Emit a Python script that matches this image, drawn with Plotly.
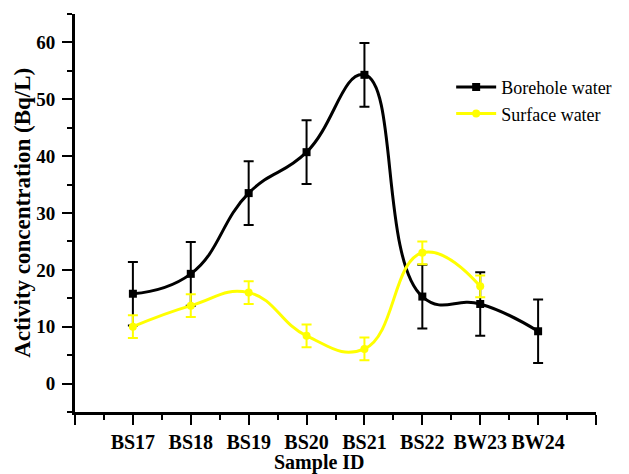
import plotly.graph_objects as go

categories = ["BS17", "BS18", "BS19", "BS20", "BS21", "BS22", "BW23", "BW24"]
borehole = [15.8, 19.3, 33.5, 40.7, 54.3, 15.3, 14.0, 9.2]
borehole_err = [5.6, 5.6, 5.6, 5.6, 5.6, 5.6, 5.6, 5.6]
surface = [10.0, 13.7, 16.0, 8.4, 6.1, 23.0, 17.1]
surface_err = [2.0, 2.0, 2.0, 2.0, 2.0, 2.0, 1.9]

xb = list(range(1, len(borehole) + 1))
xs = list(range(1, len(surface) + 1))

serif = "Liberation Serif, Times New Roman, serif"

fig = go.Figure()
fig.add_trace(go.Scatter(
    x=xb, y=borehole, name="Borehole water", mode="lines+markers",
    line=dict(color="black", width=3, shape="spline", smoothing=1.3),
    marker=dict(symbol="square", size=8, color="black"),
    error_y=dict(type="data", array=borehole_err, visible=True,
                 color="black", thickness=2, width=5),
))
fig.add_trace(go.Scatter(
    x=xs, y=surface, name="Surface water", mode="lines+markers",
    line=dict(color="#FFFF00", width=3, shape="spline", smoothing=1.3),
    marker=dict(symbol="circle", size=8, color="#FFFF00"),
    error_y=dict(type="data", array=surface_err, visible=True,
                 color="#FFFF00", thickness=2, width=5),
))

fig.update_layout(
    width=629, height=474,
    margin=dict(l=75, r=17, t=14, b=62),
    plot_bgcolor="white", paper_bgcolor="white",
    font=dict(family=serif, color="black"),
    showlegend=True,
    legend=dict(x=0.722, y=0.862, xanchor="left", yanchor="top",
                bgcolor="rgba(0,0,0,0)", font=dict(size=18, family=serif),
                itemwidth=40, tracegroupgap=0),
    xaxis=dict(
        range=[0, 9], tickmode="array",
        tickvals=list(range(0, 10)),
        ticktext=[""] + categories + [""],
        showgrid=False, zeroline=False,
        showline=True, linecolor="black", linewidth=3,
        ticks="outside", ticklen=10, tickwidth=2, tickcolor="black",
        tickfont=dict(size=20, family=serif, weight="bold"),
        minor=dict(tickmode="linear", tick0=0, dtick=0.5, ticks="outside",
                   ticklen=5, tickwidth=2, tickcolor="black"),
    ),
    yaxis=dict(
        range=[-5, 65], tickmode="array", tickvals=[0, 10, 20, 30, 40, 50, 60],
        showgrid=False, zeroline=False,
        showline=True, linecolor="black", linewidth=3,
        ticks="outside", ticklen=10, tickwidth=2, tickcolor="black",
        tickfont=dict(size=19, family=serif, weight="bold"),
        ticklabelstandoff=3,
        minor=dict(tickmode="linear", tick0=-5, dtick=5, ticks="outside",
                   ticklen=5, tickwidth=2, tickcolor="black"),
    ),
    annotations=[
        dict(text="<b>Sample ID</b>", xref="paper", yref="paper",
             x=0.469, y=-0.128, xanchor="center", yanchor="middle",
             showarrow=False, font=dict(size=20, family=serif)),
        dict(text="<b>Activity concentration (Bq/L)</b>", xref="paper", yref="paper",
             x=-0.102, y=0.5, xanchor="center", yanchor="middle", textangle=-90,
             showarrow=False, font=dict(size=23, family=serif)),
    ],
)

fig.write_html("out.html", config={"displayModeBar": False},
               post_script="document.body.style.margin='0';")
